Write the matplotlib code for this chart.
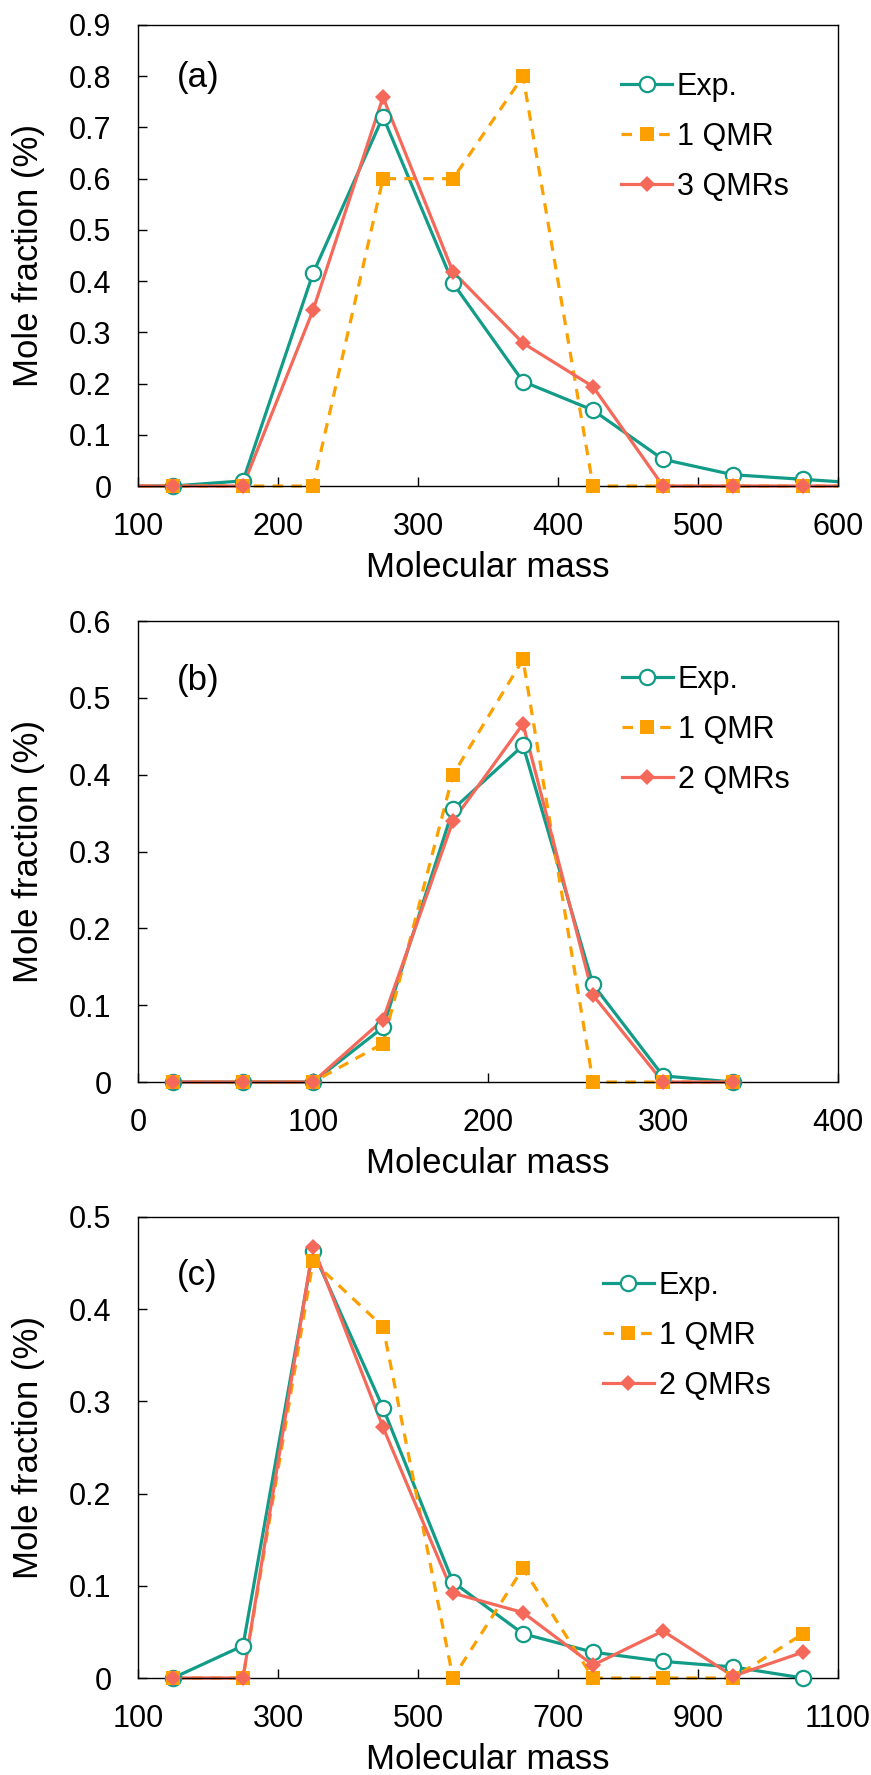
#!/usr/bin/env python3
"""Mole fraction vs molecular mass, three panels (a)-(c)."""

import matplotlib
matplotlib.use("Agg")
import matplotlib.pyplot as plt
from matplotlib.patches import Rectangle

plt.rcParams.update({
    "font.family": ["Liberation Sans", "DejaVu Sans"],
    "font.size": 22,
    "axes.linewidth": 1.0,
})

TEAL = "#129c88"
ORANGE = "#fca000"
CORAL = "#f4695a"

# panel (a); the end points at 75 and 625 only show as line stubs at the edges
mass_a = [75, 125, 175, 225, 275, 325, 375, 425, 475, 525, 575, 625]
exp_a = [0, 0, 0.010, 0.415, 0.721, 0.396, 0.204, 0.148, 0.052, 0.022, 0.013, 0.004]
qmr1_a = [0, 0, 0, 0, 0.6, 0.6, 0.8, 0, 0, 0, 0, 0]
qmr3_a = [0, 0, 0, 0.343, 0.759, 0.418, 0.279, 0.194, 0, 0, 0, 0]

# panel (b)
mass_b = [20, 60, 100, 140, 180, 220, 260, 300, 340]
exp_b = [0, 0, 0, 0.071, 0.355, 0.438, 0.127, 0.008, 0]
qmr1_b = [0, 0, 0, 0.05, 0.40, 0.55, 0, 0, 0]
qmr2_b = [0, 0, 0, 0.081, 0.34, 0.466, 0.113, 0, 0]

# panel (c)
mass_c = [150, 250, 350, 450, 550, 650, 750, 850, 950, 1050]
exp_c = [0, 0.035, 0.463, 0.293, 0.104, 0.048, 0.028, 0.018, 0.012, 0]
qmr1_c = [0, 0, 0.452, 0.381, 0, 0.119, 0, 0, 0, 0.048]
qmr2_c = [0, 0, 0.468, 0.272, 0.092, 0.071, 0.014, 0.051, 0.002, 0.028]

W, H = 871, 1775
LEFT, RIGHT = 138, 838


def panel(fig, top, bottom, xlim, xstep, ymax, series, label, leg_xy):
    ax = fig.add_axes([LEFT / W, 1 - bottom / H, (RIGHT - LEFT) / W, (bottom - top) / H])
    x0, x1 = xlim
    clip = Rectangle((0, -0.02), 1, 1.04, transform=ax.transAxes, visible=False)
    ax.add_patch(clip)

    styles = [
        dict(color=TEAL, ls="-", marker="o", ms=11, mfc="white", mec=TEAL, mew=1.6),
        dict(color=ORANGE, ls=(0, (3.3, 2.6)), marker="s", ms=10, mfc=ORANGE, mec=ORANGE, mew=0),
        dict(color=CORAL, ls="-", marker="D", ms=8.5, mfc=CORAL, mec=CORAL, mew=0),
    ]
    handles = []
    for (xs, ys, name), st in zip(series, styles):
        inside = [i for i, v in enumerate(xs) if x0 <= v <= x1]
        line, = ax.plot(xs, ys, color=st["color"], ls=st["ls"], lw=2.3)
        line.set_clip_path(clip)
        ax.plot([xs[i] for i in inside], [ys[i] for i in inside], ls="none",
                marker=st["marker"], ms=st["ms"], mfc=st["mfc"], mec=st["mec"],
                mew=st["mew"], clip_on=False, zorder=3)
        # legend entry: line with one marker in the middle
        h, = ax.plot([], [], color=st["color"], ls=st["ls"], lw=2.3,
                     marker=st["marker"], ms=st["ms"], mfc=st["mfc"], mec=st["mec"],
                     mew=st["mew"], label=name)
        handles.append(h)
    ax.set_xlim(x0, x1)
    ax.set_ylim(0, ymax)
    ax.set_xticks(range(x0, x1 + 1, xstep))
    yt = [round(0.1 * k, 1) for k in range(int(round(ymax * 10)) + 1)]
    ax.set_yticks(yt, ["0" if v == 0 else f"{v:g}" for v in yt])
    ax.tick_params(direction="in", length=6.5, width=1.0, pad=19, labelsize=22,
                   top=False, right=False)
    ax.set_xlabel("Molecular mass", fontsize=25, va="center")
    ax.set_ylabel("Mole fraction (%)", fontsize=25, va="center")
    ax.xaxis.set_label_coords(0.5, -0.176)
    ax.yaxis.set_label_coords(-0.157, 0.5)
    for sp in ax.spines.values():
        sp.set_zorder(2.5)
    ax.text(0.056, 1 - label[1] / (bottom - top), label[0], transform=ax.transAxes,
            fontsize=25, ha="left", va="center")
    ax.legend(handles=handles, loc="center left", bbox_to_anchor=leg_xy, frameon=False,
              borderpad=0, borderaxespad=0, handlelength=1.67, handletextpad=0.16,
              labelspacing=0.65, fontsize=22, numpoints=1)
    return ax


def main():
    fig = plt.figure(figsize=(W / 100, H / 100), dpi=100)
    panel(fig, 25, 486, (100, 600), 100, 0.9,
          [(mass_a, exp_a, "Exp."), (mass_a, qmr1_a, "1 QMR"), (mass_a, qmr3_a, "3 QMRs")],
          ("(a)", 53), (0.69, 1 - 112 / 461))
    panel(fig, 621, 1082, (0, 400), 100, 0.6,
          [(mass_b, exp_b, "Exp."), (mass_b, qmr1_b, "1 QMR"), (mass_b, qmr2_b, "2 QMRs")],
          ("(b)", 59), (0.691, 1 - 109 / 461))
    panel(fig, 1217, 1678, (100, 1100), 200, 0.5,
          [(mass_c, exp_c, "Exp."), (mass_c, qmr1_c, "1 QMR"), (mass_c, qmr2_c, "2 QMRs")],
          ("(c)", 58), (0.664, 1 - 119 / 461))
    fig.savefig("out.png", dpi=100)
    plt.close(fig)


if __name__ == "__main__":
    main()
